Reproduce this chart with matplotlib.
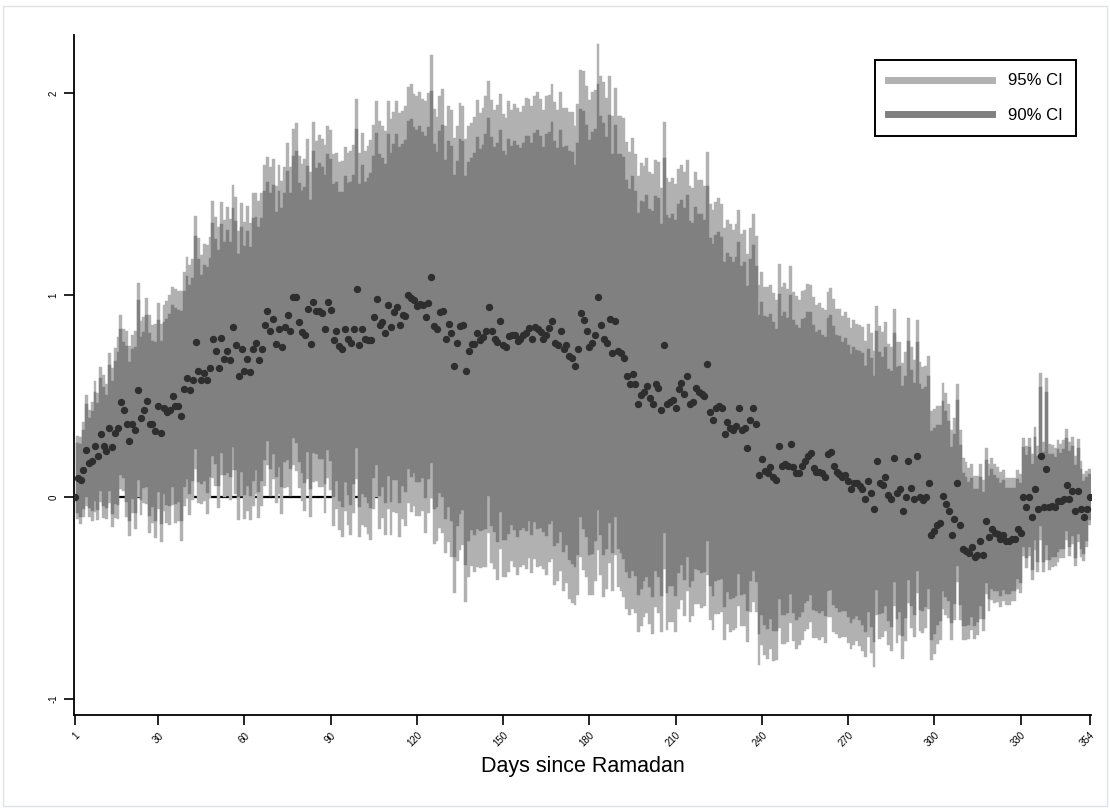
import matplotlib
matplotlib.use("Agg")
import matplotlib.pyplot as plt
from matplotlib.lines import Line2D
from matplotlib.patches import Rectangle
import numpy as np

plt.rcParams['font.family'] = ['Liberation Sans', 'DejaVu Sans']

# point estimates, one per day since Ramadan (day 1 = reference)
estimate = [
    0, 0.094, 0.083, 0.135, 0.23, 0.167, 0.177, 0.25, 0.2, 0.31,
    0.25, 0.225, 0.34, 0.245, 0.317, 0.34, 0.47, 0.43, 0.36, 0.275,
    0.36, 0.33, 0.53, 0.39, 0.43, 0.475, 0.36, 0.36, 0.325, 0.45,
    0.317, 0.44, 0.42, 0.43, 0.5, 0.45, 0.45, 0.40, 0.535, 0.59,
    0.53, 0.58, 0.765, 0.625, 0.58, 0.615, 0.58, 0.64, 0.78, 0.72,
    0.64, 0.785, 0.685, 0.72, 0.68, 0.84, 0.75, 0.6, 0.73, 0.625,
    0.685, 0.62, 0.73, 0.76, 0.68, 0.73, 0.85, 0.92, 0.82, 0.88,
    0.755, 0.83, 0.74, 0.84, 0.90, 0.82, 0.99, 0.99, 0.865, 0.815,
    0.80, 0.93, 0.755, 0.965, 0.92, 0.92, 0.91, 0.83, 0.965, 0.925,
    0.775, 0.82, 0.745, 0.73, 0.83, 0.78, 0.76, 0.83, 1.03, 0.75,
    0.83, 0.78, 0.775, 0.775, 0.89, 0.98, 0.85, 0.865, 0.81, 0.95,
    0.84, 0.915, 0.94, 0.85, 0.90, 0.895, 1.0, 0.985, 0.975, 0.945,
    0.955, 0.95, 0.89, 0.96, 1.09, 0.845, 0.83, 0.915, 0.92, 0.78,
    0.855, 0.81, 0.65, 0.76, 0.845, 0.85, 0.625, 0.72, 0.755, 0.755,
    0.81, 0.775, 0.79, 0.82, 0.94, 0.82, 0.78, 0.765, 0.87, 0.75,
    0.74, 0.795, 0.80, 0.80, 0.77, 0.78, 0.80, 0.81, 0.835, 0.78,
    0.84, 0.83, 0.815, 0.78, 0.80, 0.835, 0.87, 0.76, 0.75, 0.82,
    0.73, 0.75, 0.70, 0.69, 0.65, 0.73, 0.91, 0.875, 0.82, 0.74,
    0.76, 0.80, 0.99, 0.85, 0.78, 0.76, 0.88, 0.71, 0.87, 0.72,
    0.71, 0.69, 0.60, 0.56, 0.61, 0.56, 0.46, 0.505, 0.52, 0.55,
    0.49, 0.46, 0.56, 0.54, 0.43, 0.75, 0.46, 0.47, 0.48, 0.44,
    0.535, 0.565, 0.51, 0.60, 0.46, 0.47, 0.54, 0.52, 0.51, 0.50,
    0.66, 0.42, 0.38, 0.44, 0.45, 0.44, 0.31, 0.37, 0.34, 0.33,
    0.35, 0.44, 0.33, 0.34, 0.24, 0.38, 0.44, 0.36, 0.11, 0.19,
    0.13, 0.12, 0.15, 0.10, 0.085, 0.25, 0.155, 0.165, 0.155, 0.26,
    0.15, 0.12, 0.12, 0.155, 0.18, 0.2, 0.215, 0.145, 0.125, 0.125,
    0.12, 0.1, 0.21, 0.22, 0.155, 0.125, 0.115, 0.1, 0.11, 0.08,
    0.04, 0.07, 0.07, 0.055, 0.04, -0.01, 0.08, 0.02, -0.06, 0.18,
    0.07, 0.06, 0.10, 0.01, -0.01, 0.195, 0.02, 0.04, -0.07, 0.0,
    0.18, 0.045, -0.01, 0.2, 0.0, -0.015, 0.0, 0.07, -0.19, -0.17,
    -0.14, -0.13, 0.005, -0.035, -0.07, -0.19, -0.11, 0.07, -0.14, -0.26,
    -0.27, -0.28, -0.25, -0.30, -0.29, -0.22, -0.29, -0.12, -0.2, -0.16,
    -0.18, -0.185, -0.21, -0.19, -0.22, -0.22, -0.21, -0.21, -0.16, -0.18,
    0.0, -0.05, 0.0, -0.1, 0.04, -0.06, 0.2, -0.05, 0.14, -0.05,
    -0.045, -0.05, -0.02, -0.02, -0.01, 0.06, -0.01, 0.03, -0.07, 0.03,
    -0.06, -0.1, -0.06, 0.0,
]

# standard errors, one per day
std_err = [
    0, 0.105, 0.11, 0.12, 0.14, 0.135, 0.15, 0.165, 0.16, 0.17,
    0.18, 0.17, 0.19, 0.2, 0.215, 0.23, 0.22, 0.205, 0.235, 0.24,
    0.225, 0.25, 0.27, 0.245, 0.235, 0.26, 0.275, 0.25, 0.27, 0.26,
    0.275, 0.26, 0.28, 0.29, 0.275, 0.295, 0.29, 0.315, 0.295, 0.305,
    0.315, 0.305, 0.32, 0.335, 0.315, 0.325, 0.34, 0.33, 0.35, 0.34,
    0.355, 0.345, 0.35, 0.365, 0.355, 0.36, 0.375, 0.365, 0.37, 0.375,
    0.385, 0.375, 0.395, 0.38, 0.4, 0.395, 0.405, 0.39, 0.415, 0.405,
    0.4, 0.415, 0.42, 0.405, 0.435, 0.415, 0.425, 0.44, 0.42, 0.425,
    0.445, 0.43, 0.435, 0.455, 0.43, 0.445, 0.44, 0.465, 0.445, 0.455,
    0.47, 0.45, 0.465, 0.475, 0.46, 0.47, 0.485, 0.465, 0.48, 0.485,
    0.495, 0.475, 0.49, 0.505, 0.485, 0.5, 0.515, 0.495, 0.51, 0.515,
    0.525, 0.505, 0.52, 0.535, 0.515, 0.53, 0.525, 0.54, 0.52, 0.53,
    0.535, 0.52, 0.545, 0.53, 0.56, 0.55, 0.535, 0.545, 0.56, 0.54,
    0.55, 0.565, 0.575, 0.55, 0.565, 0.555, 0.585, 0.57, 0.56, 0.575,
    0.59, 0.575, 0.58, 0.595, 0.57, 0.585, 0.58, 0.6, 0.575, 0.585,
    0.58, 0.595, 0.57, 0.585, 0.59, 0.575, 0.58, 0.595, 0.58, 0.59,
    0.585, 0.6, 0.59, 0.58, 0.605, 0.59, 0.6, 0.61, 0.595, 0.605,
    0.61, 0.6, 0.615, 0.62, 0.605, 0.62, 0.615, 0.63, 0.62, 0.625,
    0.635, 0.62, 0.64, 0.63, 0.65, 0.62, 0.615, 0.6, 0.59, 0.595,
    0.6, 0.605, 0.59, 0.585, 0.595, 0.58, 0.575, 0.585, 0.57, 0.575,
    0.57, 0.58, 0.565, 0.57, 0.56, 0.565, 0.57, 0.555, 0.56, 0.565,
    0.555, 0.55, 0.56, 0.545, 0.55, 0.54, 0.545, 0.535, 0.54, 0.53,
    0.535, 0.525, 0.53, 0.52, 0.525, 0.515, 0.52, 0.51, 0.515, 0.505,
    0.51, 0.5, 0.495, 0.5, 0.49, 0.485, 0.49, 0.475, 0.48, 0.47,
    0.465, 0.47, 0.46, 0.465, 0.455, 0.46, 0.45, 0.455, 0.445, 0.45,
    0.44, 0.445, 0.435, 0.44, 0.43, 0.435, 0.425, 0.43, 0.42, 0.425,
    0.415, 0.42, 0.41, 0.415, 0.42, 0.41, 0.415, 0.405, 0.41, 0.41,
    0.405, 0.41, 0.4, 0.405, 0.41, 0.4, 0.395, 0.405, 0.4, 0.39,
    0.395, 0.385, 0.39, 0.38, 0.385, 0.375, 0.38, 0.37, 0.375, 0.365,
    0.36, 0.355, 0.35, 0.345, 0.34, 0.335, 0.33, 0.32, 0.315, 0.31,
    0.3, 0.295, 0.285, 0.28, 0.27, 0.265, 0.255, 0.25, 0.24, 0.23,
    0.225, 0.215, 0.21, 0.205, 0.2, 0.195, 0.19, 0.185, 0.185, 0.18,
    0.175, 0.17, 0.17, 0.165, 0.16, 0.16, 0.155, 0.155, 0.15, 0.15,
    0.15, 0.155, 0.15, 0.16, 0.155, 0.16, 0.21, 0.165, 0.23, 0.16,
    0.155, 0.15, 0.155, 0.145, 0.15, 0.14, 0.145, 0.135, 0.14, 0.13,
    0.12, 0.11, 0.095, 0.07,
]

x_ticks = [1, 30, 60, 90, 120, 150, 180, 210, 240, 270, 300, 330, 354]
y_ticks = [-1, 0, 1, 2]

est = np.array(estimate)
se = np.array(std_err)
days = np.arange(1, len(est) + 1)

lo95, hi95 = est - 1.96 * se, est + 1.96 * se
lo90, hi90 = est - 1.645 * se, est + 1.645 * se

light = '#b1b1b1'
dark = '#808080'

fig = plt.figure(figsize=(11.1, 8.08), dpi=100)
ax = fig.add_axes([74 / 1110, 93 / 808, 1017 / 1110, 680 / 808])

# zero reference line sits behind the bars
ax.axhline(0, color='black', lw=1.6, zorder=1)

ax.bar(days, hi95 - lo95, bottom=lo95, width=1.0, color=light,
       edgecolor=light, linewidth=0.3, zorder=2)
ax.bar(days, hi90 - lo90, bottom=lo90, width=1.0, color=dark,
       edgecolor=dark, linewidth=0.3, zorder=3)
ax.scatter(days, est, s=28, color='#2e2e2e', linewidths=0, zorder=4)

ax.set_xlim(0.7, 354.5)
ax.set_ylim(-1.08, 2.287)

ax.set_xticks(x_ticks)
ax.set_xticklabels([str(t) for t in x_ticks], rotation=45, ha='right',
                   rotation_mode='anchor', fontsize=7)
ax.set_yticks(y_ticks)
ax.set_yticklabels([str(t) for t in y_ticks], rotation=90, va='center', fontsize=7)
ax.tick_params(axis='both', length=7, width=1.2, color='black', pad=4)

for side in ['top', 'right']:
    ax.spines[side].set_visible(False)
for side in ['left', 'bottom']:
    ax.spines[side].set_linewidth(1.3)

ax.set_xlabel('Days since Ramadan', fontsize=15.5, labelpad=5)

handles = [Line2D([0], [0], color=light, lw=5),
           Line2D([0], [0], color=dark, lw=5)]
leg = ax.legend(handles, ['95% CI', '90% CI'], loc='upper left',
                bbox_to_anchor=(875 / 1110, 1 - 60 / 808), bbox_transform=fig.transFigure,
                fontsize=12, handlelength=6.2, handletextpad=1.0, labelspacing=1.15,
                borderpad=0.8, borderaxespad=0, fancybox=False, framealpha=1,
                edgecolor='black')
leg.get_frame().set_linewidth(1.4)

# faint outer frame round the graph region
fig.patches.append(Rectangle((3 / 1110, 2 / 808), 1104 / 1110, 800 / 808,
                             transform=fig.transFigure, fill=False,
                             edgecolor='#dfe3e8', lw=1))

fig.savefig('out.png', dpi=100, facecolor='white')
